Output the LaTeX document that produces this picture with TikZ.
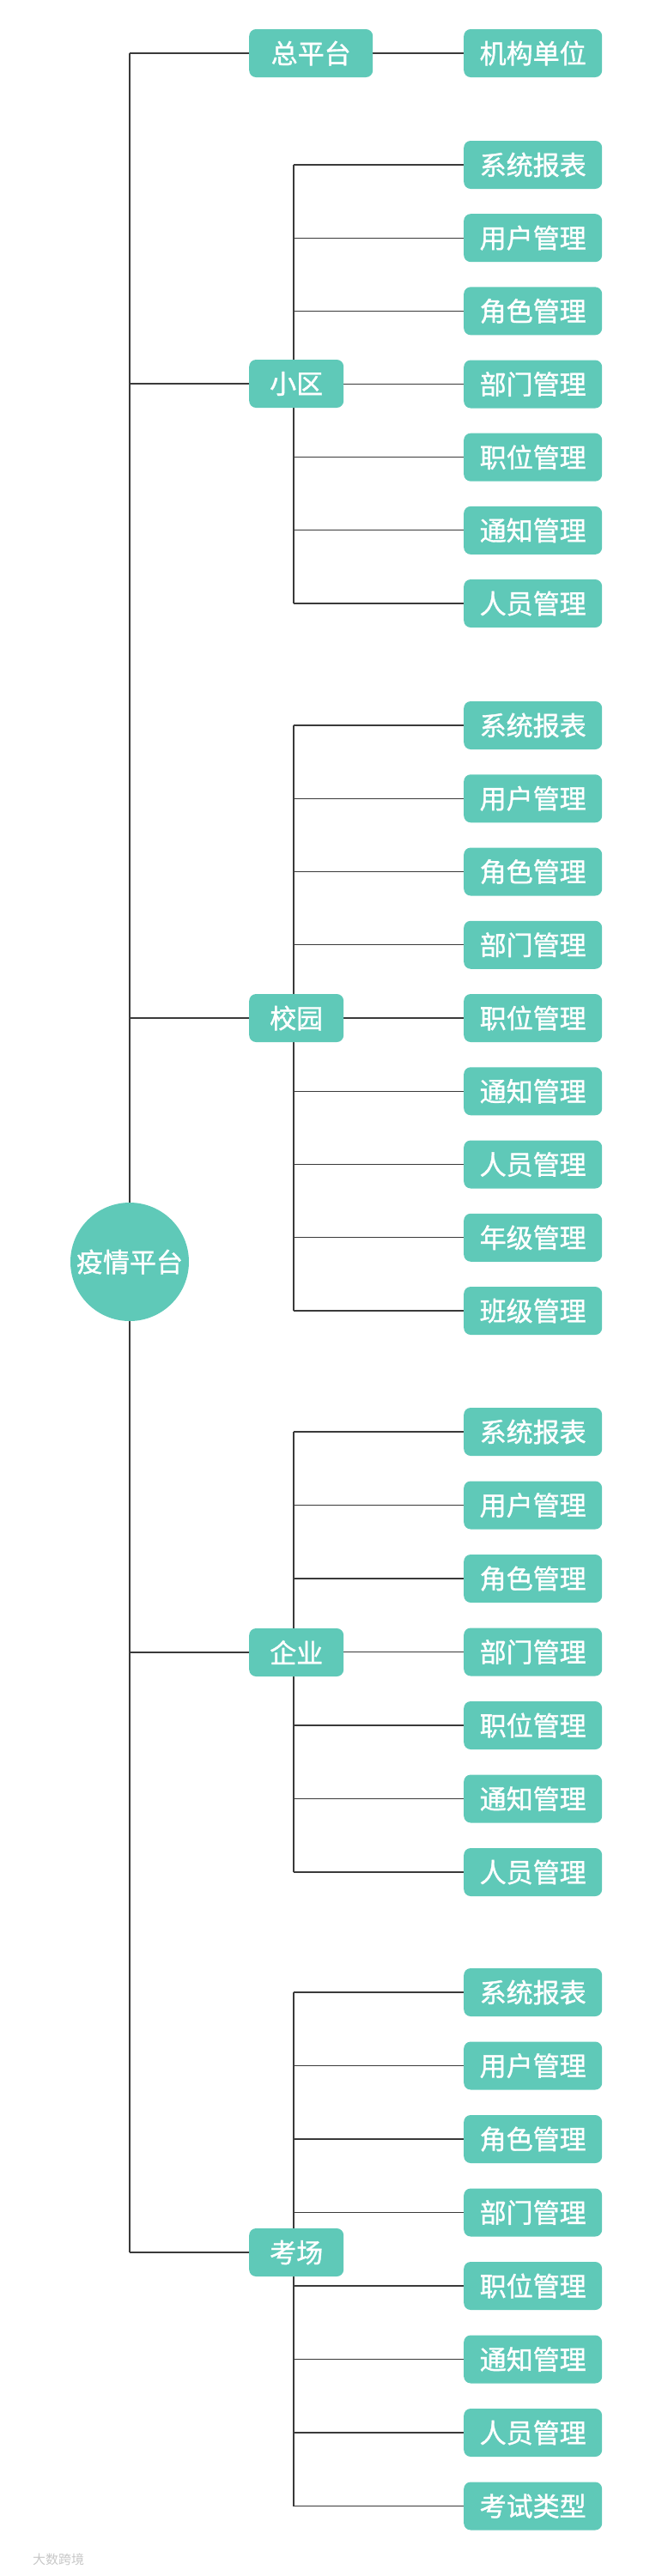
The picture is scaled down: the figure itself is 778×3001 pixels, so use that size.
\documentclass[tikz,border=0pt]{standalone}
\usepackage{fontspec}
\newfontfamily\cjk[FakeBold=1.2]{Noto Sans CJK SC}
\newfontfamily\cjkwm{Noto Sans CJK SC}
\usetikzlibrary{backgrounds}
\definecolor{tealbox}{HTML}{5FC9B8}
\definecolor{linec}{HTML}{3A3A3A}
\begin{document}
\begin{tikzpicture}[x=1pt,y=-1pt,
  box/.style={fill=tealbox, rounded corners=8pt, text=white,
    font=\cjk\fontsize{31}{31}\selectfont, minimum height=56pt,
    inner sep=0pt, anchor=west},
  leaf/.style={box, minimum width=161pt},
  grp/.style={box, minimum width=110pt},
  conn/.style={draw=linec, line width=1.1pt}]
\useasboundingbox (0,0) rectangle (778,3001);

% root
\node[circle, fill=tealbox, minimum size=138pt, inner sep=0pt, text=white,
  font=\cjk\fontsize{31}{31}\selectfont] (root) at (151,1470) {疫情平台};

% main trunk coordinates
\coordinate (mtop) at (151,62);
\coordinate (mbot) at (151,2624);
\coordinate (sx) at (342,0);

% group 0
\node[box, minimum width=144pt] (g0) at (290,62) {总平台};
\node[leaf] (z0) at (540,62) {机构单位};

% group 1
\node[grp] (g1) at (290,447) {小区};
\foreach \t [count=\i from 0] in {系统报表,用户管理,角色管理,部门管理,职位管理,通知管理,人员管理}
  \node[leaf] (a\i) at (540,192+\i*85.17) {\t};

% group 2
\node[grp] (g2) at (290,1186) {校园};
\foreach \t [count=\i from 0] in {系统报表,用户管理,角色管理,部门管理,职位管理,通知管理,人员管理,年级管理,班级管理}
  \node[leaf] (b\i) at (540,845+\i*85.25) {\t};

% group 3
\node[grp] (g3) at (290,1925) {企业};
\foreach \t [count=\i from 0] in {系统报表,用户管理,角色管理,部门管理,职位管理,通知管理,人员管理}
  \node[leaf] (c\i) at (540,1668+\i*85.5) {\t};

% group 4
\node[grp] (g4) at (290,2624) {考场};
\foreach \t [count=\i from 0] in {系统报表,用户管理,角色管理,部门管理,职位管理,通知管理,人员管理,考试类型}
  \node[leaf] (d\i) at (540,2321+\i*85.5) {\t};

% watermark
\node[anchor=west, text=black!22, font=\cjkwm\fontsize{15}{15}\selectfont, inner sep=0pt] (wm) at (38,2982) {大数跨境};

\begin{scope}[on background layer]
  \draw[conn] (mtop) -- (mbot);
  \draw[conn] (mtop) -- (g0.west);
  \draw[conn] (g1.west -| mtop) -- (g1.west);
  \draw[conn] (g2.west -| mtop) -- (g2.west);
  \draw[conn] (g3.west -| mtop) -- (g3.west);
  \draw[conn] (mbot) -- (g4.west);
  \draw[conn] (g0.east) -- (z0.west);
  % group 1
  \draw[conn] (a0.west -| sx) -- (a6.west -| sx);
  \foreach \i in {0,...,6} \draw[conn] (a\i.west -| sx) -- (a\i.west);
  % group 2
  \draw[conn] (b0.west -| sx) -- (b8.west -| sx);
  \foreach \i in {0,...,8} \draw[conn] (b\i.west -| sx) -- (b\i.west);
  % group 3
  \draw[conn] (c0.west -| sx) -- (c6.west -| sx);
  \foreach \i in {0,...,6} \draw[conn] (c\i.west -| sx) -- (c\i.west);
  % group 4
  \draw[conn] (d0.west -| sx) -- (d7.west -| sx);
  \foreach \i in {0,...,7} \draw[conn] (d\i.west -| sx) -- (d\i.west);
\end{scope}
\end{tikzpicture}
\end{document}
